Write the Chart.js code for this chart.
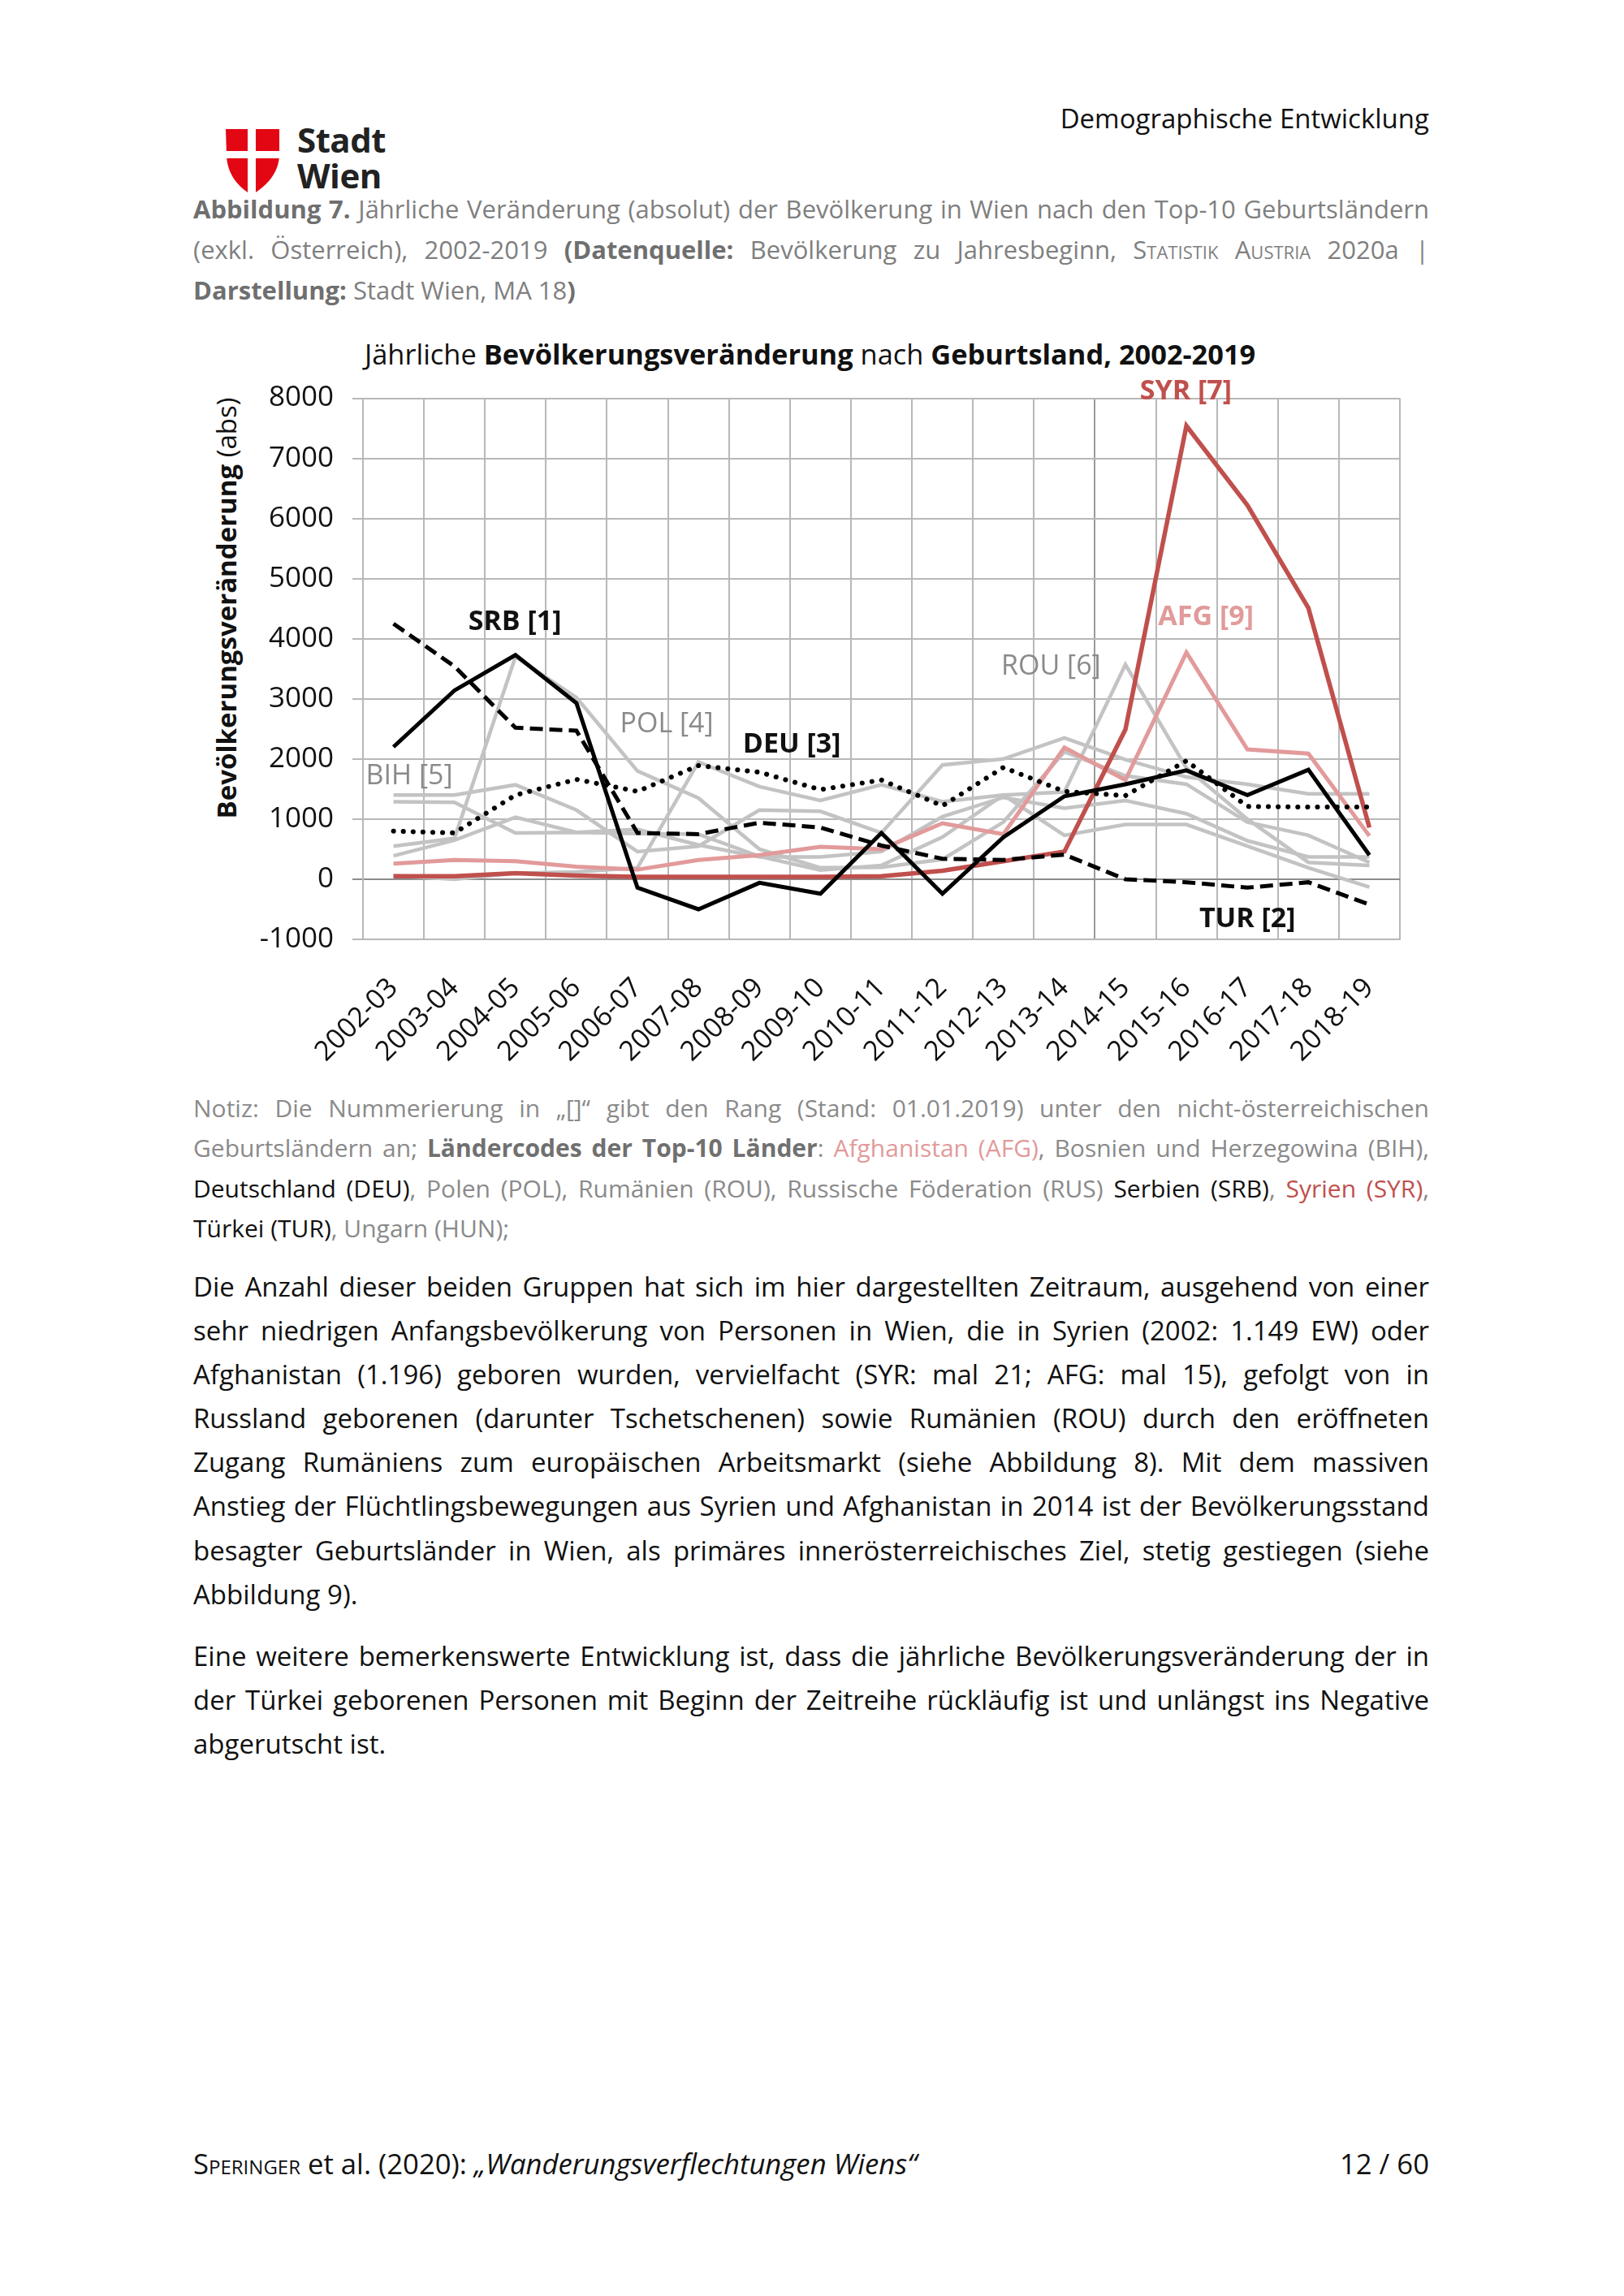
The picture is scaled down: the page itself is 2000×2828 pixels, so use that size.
<!DOCTYPE html>
<html lang="de">
<head>
<meta charset="utf-8">
<title>Jährliche Bevölkerungsveränderung nach Geburtsland, 2002-2019</title>
<script src="https://cdn.jsdelivr.net/npm/chart.js@4.4.1/dist/chart.umd.min.js"></script>
<style>
  html, body { margin: 0; padding: 0; background: #fff; }
  body { width: 2000px; height: 2828px; position: relative; overflow: hidden; font-family: "Open Sans", sans-serif; color: #111; }
  .abs { position: absolute; white-space: nowrap; }
  .block { position: absolute; left: 238px; width: 1522px; }
  .jl { white-space: nowrap; }
  .caption { top: 232px; font-size: 31px; line-height: 50px; color: #7f7f7f; }
  .caption b { color: #6f6f6f; }
  .notiz { top: 1340px; font-size: 30px; line-height: 49.3px; color: #8a8a8a; }
  .notiz b { color: #707070; }
  .body { font-size: 33px; line-height: 54.1px; color: #111; }
  .sc { font-variant: small-caps; }
  .k { color: #111; }
  .afg { color: #e29a9a; }
  .syr { color: #c0504d; }
  #chartBox { position: absolute; left: 240px; top: 400px; width: 1520px; height: 930px; }
</style>
</head>
<body>

<div class="abs" style="right:240px; top:126px; font-size:33px; line-height:40px; color:#111;">Demographische Entwicklung</div>

<svg class="abs" style="left:270px; top:150px;" width="90" height="100" viewBox="270 150 90 100">
  <path d="M278,159 H344 V190 C344,214 326,231 310,240 C294,231 279,214 279,190 Z" fill="#e30613"/>
  <rect x="305" y="155" width="10" height="90" fill="#fff"/>
  <rect x="272" y="186" width="80" height="9" fill="#fff"/>
</svg>
<div class="abs" style="left:366px; top:150px; font-size:42px; line-height:44px; font-weight:700; color:#222; letter-spacing:-0.5px;">Stadt<br>Wien</div>

<div class="block caption">
  <div class="jl"><span><b>Abbildung 7.</b> Jährliche Veränderung (absolut) der Bevölkerung in Wien nach den Top-10 Geburtsländern</span></div>
  <div class="jl"><span>(exkl. Österreich), 2002-2019 <b>(Datenquelle:</b> Bevölkerung zu Jahresbeginn, <span class="sc">Statistik Austria</span> 2020a |</span></div>
  <div><span><b>Darstellung:</b> Stadt Wien, MA 18<b>)</b></span></div>
</div>

<div class="abs" style="left:449px; top:416px; font-size:34.4px; line-height:40px; color:#111;">Jährliche <b>Bevölkerungsveränderung</b> nach <b>Geburtsland, 2002-2019</b></div>

<div class="abs" style="left:279px; top:749px; font-size:33px; line-height:36px; color:#111; transform:translate(-50%,-50%) rotate(-90deg);"><b>Bevölkerungsveränderung</b> (abs)</div>

<div id="chartBox"><canvas id="chart" width="1520" height="930"></canvas></div>

<div class="block notiz">
  <div class="jl"><span>Notiz: Die Nummerierung in „[]“ gibt den Rang (Stand: 01.01.2019) unter den nicht-österreichischen</span></div>
  <div class="jl"><span>Geburtsländern an; <b>Ländercodes der Top-10 Länder</b>: <span class="afg">Afghanistan (AFG)</span>, Bosnien und Herzegowina (BIH),</span></div>
  <div class="jl"><span><span class="k">Deutschland (DEU)</span>, Polen (POL), Rumänien (ROU), Russische Föderation (RUS) <span class="k">Serbien (SRB)</span>, <span class="syr">Syrien (SYR)</span>,</span></div>
  <div><span><span class="k">Türkei (TUR)</span>, Ungarn (HUN);</span></div>
</div>

<div class="block body" style="top:1558px;">
  <div class="jl"><span>Die Anzahl dieser beiden Gruppen hat sich im hier dargestellten Zeitraum, ausgehend von einer</span></div>
  <div class="jl"><span>sehr niedrigen Anfangsbevölkerung von Personen in Wien, die in Syrien (2002: 1.149 EW) oder</span></div>
  <div class="jl"><span>Afghanistan (1.196) geboren wurden, vervielfacht (SYR: mal 21; AFG: mal 15), gefolgt von in</span></div>
  <div class="jl"><span>Russland geborenen (darunter Tschetschenen) sowie Rumänien (ROU) durch den eröffneten</span></div>
  <div class="jl"><span>Zugang Rumäniens zum europäischen Arbeitsmarkt (siehe Abbildung 8). Mit dem massiven</span></div>
  <div class="jl"><span>Anstieg der Flüchtlingsbewegungen aus Syrien und Afghanistan in 2014 ist der Bevölkerungsstand</span></div>
  <div class="jl"><span>besagter Geburtsländer in Wien, als primäres innerösterreichisches Ziel, stetig gestiegen (siehe</span></div>
  <div><span>Abbildung 9).</span></div>
</div>

<div class="block body" style="top:2013px;">
  <div class="jl"><span>Eine weitere bemerkenswerte Entwicklung ist, dass die jährliche Bevölkerungsveränderung der in</span></div>
  <div class="jl"><span>der Türkei geborenen Personen mit Beginn der Zeitreihe rückläufig ist und unlängst ins Negative</span></div>
  <div><span>abgerutscht ist.</span></div>
</div>

<div class="abs" style="left:238px; top:2638px; font-size:34.7px; line-height:54px; color:#111;"><span class="sc">Speringer</span> et al. (2020): <i>„Wanderungsverflechtungen Wiens“</i></div>
<div class="abs" style="right:240px; top:2638px; font-size:34.7px; line-height:54px; color:#111;">12 / 60</div>

<script>
// Kategorien (Zeitraum) und jährliche Veränderung je Geburtsland
const categories = ['2002-03', '2003-04', '2004-05', '2005-06', '2006-07', '2007-08', '2008-09', '2009-10',
  '2010-11', '2011-12', '2012-13', '2013-14', '2014-15', '2015-16', '2016-17', '2017-18', '2018-19']

const srb = [2200, 3140, 3730, 2930, -140, -500, -60, -240, 770, -240, 700, 1380, 1580, 1810, 1400, 1820, 400]
const tur = [4250, 3540, 2520, 2470, 770, 750, 940, 860, 560, 340, 320, 410, 0, -50, -140, -50, -420]
const deu = [800, 770, 1400, 1660, 1460, 1890, 1780, 1490, 1650, 1220, 1860, 1460, 1390, 1970, 1210, 1200, 1200]
const syr = [50, 50, 100, 60, 40, 40, 40, 40, 50, 140, 300, 460, 2490, 7540, 6220, 4510, 860]
const afg = [260, 320, 300, 210, 160, 320, 400, 540, 500, 930, 750, 2190, 1650, 3770, 2160, 2090, 720]
const bih = [1400, 1400, 1570, 1150, 460, 550, 1150, 1130, 770, 1900, 2000, 2350, 1990, 1700, 1580, 1420, 1420]
const pol = [550, 680, 3700, 3020, 1800, 1350, 500, 190, 200, 330, 950, 2120, 1720, 1580, 950, 730, 280]
const rou = [60, 0, 100, 120, 190, 1950, 1540, 1310, 1570, 1290, 1400, 1450, 3570, 1850, 1000, 280, 230]
const rus = [390, 650, 1030, 780, 830, 570, 370, 370, 460, 1040, 1360, 1180, 1310, 1090, 640, 370, 370]
const hun = [1290, 1280, 770, 780, 760, 750, 380, 150, 230, 700, 1400, 730, 910, 910, 550, 190, -130]

// Beschriftungen im Diagramm: Text, Kategorie-Index, Wert
const labelTexts = ['SRB [1]', 'TUR [2]', 'DEU [3]', 'POL [4]', 'BIH [5]', 'ROU [6]', 'SYR [7]', 'AFG [9]']
const labelAt = [1.99, 14.0, 6.53, 4.48, 0.26, 10.78, 12.99, 13.32]
const labelValue = [4270, -670, 2240, 2570, 1710, 3530, 8110, 4350]
const labelKinds = ['black', 'black', 'black', 'grey', 'grey', 'grey', 'syr', 'afg']

const yTicks = [-1000, 0, 1000, 2000, 3000, 4000, 5000, 6000, 7000, 8000]

const GREY = '#c3c3c3'
const labelStyles = {
  black: { color: '#111', weight: 700 },
  grey: { color: '#8a8a8a', weight: 400 },
  syr: { color: '#c0504d', weight: 700 },
  afg: { color: '#e29a9a', weight: 700 }
}

function justifyLines() {
  document.querySelectorAll('.jl').forEach(el => {
    el.style.wordSpacing = '0px'
    const inner = el.firstElementChild
    const natural = inner.getBoundingClientRect().width
    const spaces = (inner.textContent.match(/ /g) || []).length
    if (spaces) el.style.wordSpacing = ((el.clientWidth - natural) / spaces) + 'px'
  })
}

const seriesLabelPlugin = {
  id: 'seriesLabels',
  afterDatasetsDraw(chart) {
    const { ctx, scales: { x, y } } = chart
    ctx.save()
    ctx.textAlign = 'center'
    ctx.textBaseline = 'middle'
    labelTexts.forEach((text, i) => {
      const st = labelStyles[labelKinds[i]]
      ctx.font = `${st.weight} 34px "Open Sans"`
      ctx.fillStyle = st.color
      ctx.fillText(text, x.getPixelForValue(labelAt[i]), y.getPixelForValue(labelValue[i]))
    })
    ctx.restore()
  }
}

function line(data, color, extra) {
  return Object.assign({
    data,
    borderColor: color,
    borderWidth: 5,
    pointRadius: 0,
    tension: 0,
    fill: false
  }, extra || {})
}

function drawChart() {
  Chart.defaults.font.family = '"Open Sans", sans-serif'

  new Chart(document.getElementById('chart'), {
    type: 'line',
    data: {
      labels: categories,
      datasets: [
        line(srb, '#000'),
        line(tur, '#000', { borderDash: [16, 8] }),
        line(deu, '#000', { borderDash: [0.1, 12], borderCapStyle: 'round', borderWidth: 6 }),
        line(syr, '#c0504d', { borderWidth: 5.5 }),
        line(afg, '#e29a9a'),
        line(bih, GREY, { borderWidth: 4.5 }),
        line(pol, GREY, { borderWidth: 4.5 }),
        line(rou, GREY, { borderWidth: 4.5 }),
        line(rus, GREY, { borderWidth: 4.5 }),
        line(hun, GREY, { borderWidth: 4.5 })
      ]
    },
    options: {
      responsive: false,
      animation: false,
      devicePixelRatio: 1,
      layout: { padding: { top: 90.5, right: 36, left: 0, bottom: 0 } },
      plugins: {
        legend: { display: false },
        tooltip: { enabled: false }
      },
      scales: {
        x: {
          offset: true,
          grid: {
            offset: true,
            drawTicks: false,
            lineWidth: 2,
            color: ctx => ctx.index === 12 ? '#9a9a9a' : '#b8b8b8'
          },
          border: { color: '#b8b8b8', width: 2 },
          ticks: {
            autoSkip: false,
            minRotation: 45,
            maxRotation: 45,
            padding: 40,
            color: '#111',
            font: { size: 34 }
          },
          afterFit(scale) { scale.height = 173 }
        },
        y: {
          min: -1000,
          max: 8000,
          afterBuildTicks(scale) { scale.ticks = yTicks.map(v => ({ value: v })) },
          grid: {
            tickLength: 13,
            lineWidth: 2,
            color: ctx => ctx.tick && ctx.tick.value === 0 ? '#8c8c8c' : '#b8b8b8'
          },
          border: { color: '#b8b8b8', width: 2 },
          ticks: {
            padding: 23,
            color: '#111',
            font: { size: 35 },
            callback: value => String(value)
          },
          afterFit(scale) { scale.width = 207 }
        }
      }
    },
    plugins: [seriesLabelPlugin]
  })
}

document.fonts.ready.then(() => {
  justifyLines()
  drawChart()
})
</script>
</body>
</html>
